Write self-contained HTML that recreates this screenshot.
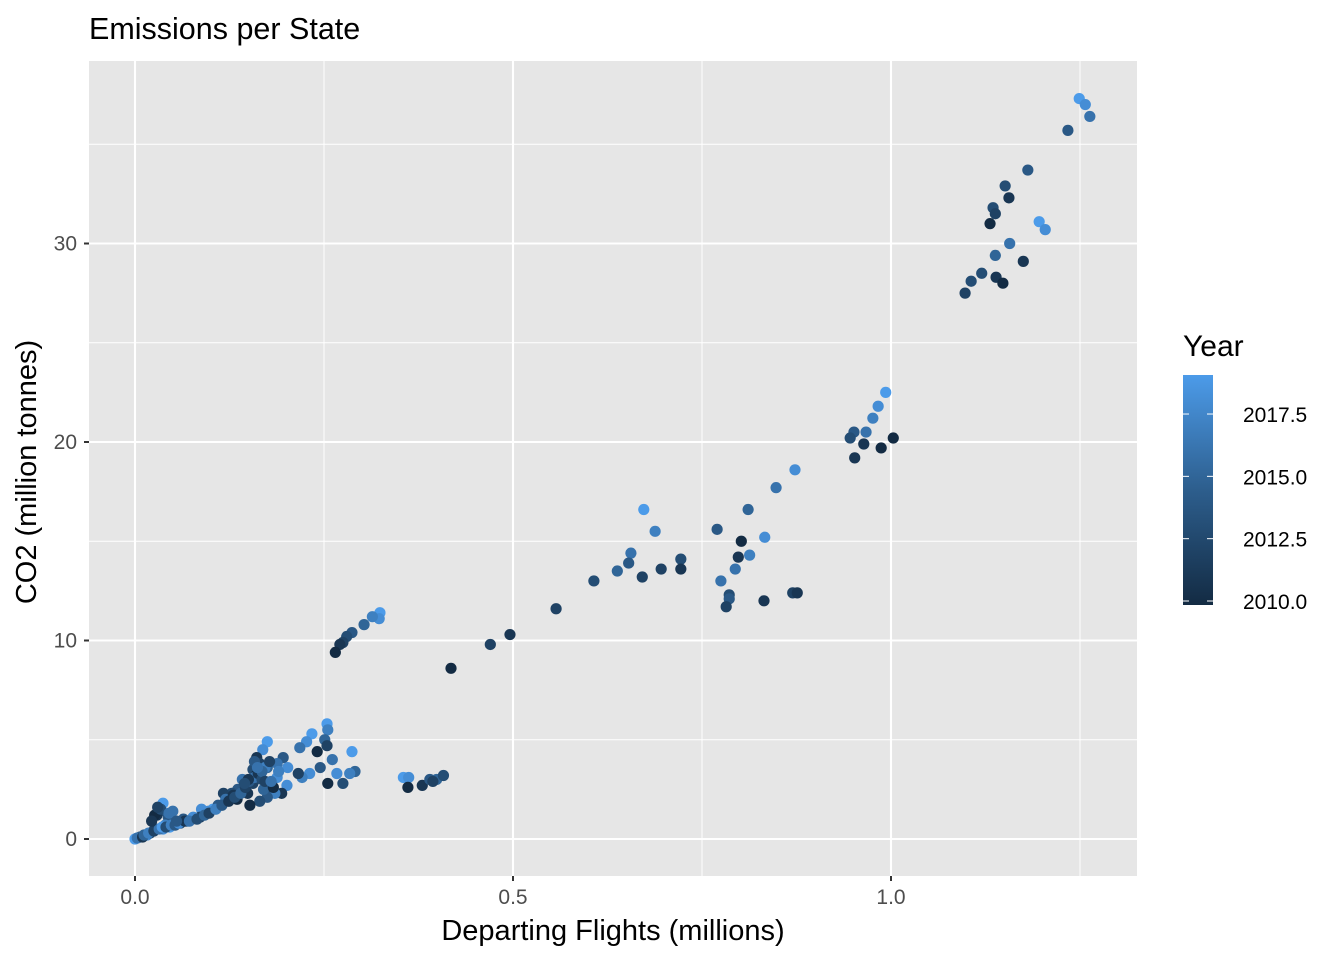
<!DOCTYPE html>
<html><head><meta charset="utf-8"><style>
html,body{margin:0;padding:0;background:#fff;}
svg text{font-family:"Liberation Sans",Arial,sans-serif;}
</style></head><body>
<svg id="chart" width="1344" height="960" xmlns="http://www.w3.org/2000/svg">
<rect x="0" y="0" width="1344" height="960" fill="#fff"/>
<text x="89" y="39" font-size="30.5" fill="#000">Emissions per State</text>
<rect x="89" y="61" width="1048" height="815" fill="#E6E6E6"/>
<g id="grid"></g>
<g id="points"></g>
<g id="axes"></g>
<text x="613" y="940" font-size="29" text-anchor="middle" fill="#000">Departing Flights (millions)</text>
<text transform="translate(36,472) rotate(-90)" font-size="29" text-anchor="middle" fill="#000">CO2 (million tonnes)</text>
<g id="legend">
<text x="1183" y="356" font-size="30" fill="#000">Year</text>
<defs><linearGradient id="yg" x1="0" y1="1" x2="0" y2="0">
<stop offset="0" stop-color="#132B43"/><stop offset="0.5" stop-color="#2D5E8D"/><stop offset="1" stop-color="#4C9BE9"/></linearGradient></defs>
<rect x="1183" y="375" width="30" height="230" fill="url(#yg)"/>
<g id="legticks"></g>
</g>
</svg>
<script>
const xs=[1.249,1.257,1.263,1.234,1.181,1.151,1.156,1.135,1.138,1.131,1.196,1.204,1.157,1.138,1.175,1.120,1.106,1.098,1.139,1.148,
0.993,0.983,0.976,0.967,0.951,0.946,1.003,0.964,0.987,0.952,
0.873,0.848,0.811,0.673,0.688,0.770,0.833,0.802,0.656,0.722,0.653,0.798,0.813,0.638,0.696,0.722,0.794,0.607,0.775,0.671,0.786,0.786,0.782,0.832,0.870,0.876,0.557,0.496,0.470,0.418,
0.324,0.323,0.314,0.303,0.287,0.280,0.275,0.271,0.265,
0.355,0.362,0.361,0.380,0.390,0.399,0.408,0.394,
0.175,0.169,0.254,0.255,0.251,0.254,0.241,0.234,0.227,0.218,0.287,0.261,0.245,0.291,0.284,0.267,0.275,0.255,0.231,0.221,0.216,0.202,0.196,0.188,0.188,0.201,0.194,0.185,0.175,0.175,0.165,0.152,0.149,0.156,0.156,0.161,0.175,0.165,0.142,0.136,0.128,0.117,0.135,0.103,0.097,0.088,0.086,0.075,0.064,0.050,0.037,0.033,0.029,0.044,0.046,0.037,0.024,0.016,0.007,0.0,0.06,0.077,0.069,
0.003,0.01,0.02,0.028,0.04,0.11,0.12,0.13,0.17,0.16,
0.012,0.018,0.025,0.032,0.036,0.041,0.048,0.053,0.058,0.066,0.072,0.082,0.092,0.098,0.107,0.115,0.124,0.132,0.140,0.146,0.151,0.158,0.163,0.168,0.172,0.178,0.183,0.158,0.168,0.172,0.162,0.150,0.145,0.180,0.190,0.026,0.034,0.045,0.055,0.030,0.022];
const ys=[37.3,37.0,36.4,35.7,33.7,32.9,32.3,31.8,31.5,31.0,31.1,30.7,30.0,29.4,29.1,28.5,28.1,27.5,28.3,28.0,
22.5,21.8,21.2,20.5,20.5,20.2,20.2,19.9,19.7,19.2,
18.6,17.7,16.6,16.6,15.5,15.6,15.2,15.0,14.4,14.1,13.9,14.2,14.3,13.5,13.6,13.6,13.6,13.0,13.0,13.2,12.3,12.1,11.7,12.0,12.4,12.4,11.6,10.3,9.8,8.6,
11.4,11.1,11.2,10.8,10.4,10.2,9.9,9.8,9.4,
3.1,3.1,2.6,2.7,3.0,3.0,3.2,2.9,
4.9,4.5,5.8,5.5,5.0,4.7,4.4,5.3,4.9,4.6,4.4,4.0,3.6,3.4,3.3,3.3,2.8,2.8,3.3,3.1,3.3,3.6,4.1,3.8,3.1,2.7,2.3,2.3,2.6,2.1,1.9,1.7,2.3,2.8,3.5,4.1,3.6,3.8,3.0,2.5,2.3,2.3,2.0,1.5,1.4,1.5,1.1,1.0,1.0,1.4,1.8,1.4,1.2,1.1,0.6,0.5,0.4,0.2,0.1,0.0,0.8,1.1,0.9,
0.05,0.1,0.3,0.5,0.7,1.7,2.0,2.2,2.5,3.2,
0.2,0.3,0.4,0.5,0.6,0.6,0.7,0.7,0.8,0.9,0.9,1.0,1.2,1.3,1.5,1.7,1.9,2.1,2.3,2.6,2.9,3.1,3.3,3.0,3.6,3.9,2.6,3.9,3.4,2.9,3.6,3.0,2.8,2.9,3.4,1.2,1.5,1.3,0.9,1.6,0.9];
const years=[2019,2018,2016,2014,2014,2013,2011,2013,2012,2010,2019,2018,2016,2015,2011,2013,2013,2012,2011,2010,
2019,2018,2017,2016,2014,2013,2010,2011,2010,2011,
2018,2016,2015,2019,2017,2014,2018,2010,2016,2013,2014,2011,2017,2015,2012,2011,2016,2013,2016,2012,2013,2014,2012,2011,2012,2011,2012,2011,2012,2010,
2019,2018,2017,2015,2014,2013,2012,2011,2010,
2019,2018,2010,2011,2014,2015,2013,2012,
2019,2018,2019,2017,2015,2012,2010,2019,2018,2016,2019,2016,2014,2015,2017,2018,2013,2010,2018,2017,2012,2018,2014,2016,2018,2018,2011,2017,2013,2014,2013,2010,2011,2012,2013,2011,2015,2012,2016,2014,2013,2012,2010,2019,2018,2018,2012,2013,2014,2016,2019,2015,2011,2014,2019,2018,2014,2018,2013,2019,2013,2018,2016,
2016,2011,2012,2015,2017,2014,2016,2011,2015,2010,
2015,2017,2012,2016,2019,2013,2017,2014,2018,2011,2016,2013,2015,2012,2017,2014,2011,2013,2015,2012,2014,2016,2011,2013,2017,2012,2010,2014,2015,2012,2016,2011,2013,2016,2017,2010,2013,2016,2014,2012,2011];
const xTicks=[0,0.5,1.0];
const xTickLabels=["0.0","0.5","1.0"];
const yTicks=[0,10,20,30];
const yTickLabels=["0","10","20","30"];
const legendBreaks=[2010,2012.5,2015,2017.5];
const legendLabels=["2010.0","2012.5","2015.0","2017.5"];

const NS="http://www.w3.org/2000/svg";
const X=v=>135+v*756;
const Y=v=>839-v*19.85;
const yMin=2010,yMax=2019;
const L=v=>601-(v-2010)*24.93;
function col(yr){const t=Math.max(0,Math.min(1,(yr-yMin)/(yMax-yMin)));
 const a=[0x13,0x2B,0x43],m=[0x2D,0x5E,0x8D],b=[0x4C,0x9B,0xE9];
 let p,q,u; if(t<0.5){p=a;q=m;u=t*2;}else{p=m;q=b;u=(t-0.5)*2;}
 return "rgb("+p.map((c,i)=>Math.round(c+(q[i]-c)*u)).join(",")+")";}
function mk(tag,attrs,parent){const e=document.createElementNS(NS,tag);for(const k in attrs)e.setAttribute(k,attrs[k]);parent.appendChild(e);return e;}
const grid=document.getElementById('grid');
[0.25,0.75,1.25].forEach(v=>{const px=X(v);if(px<1137){const l=mk('line',{x1:px,x2:px,y1:61,y2:876,stroke:'#fff','stroke-width':1},grid);

}});
[5,15,25,35].forEach(v=>{const l=mk('line',{x1:89,x2:1137,y1:Y(v),y2:Y(v),stroke:'#fff','stroke-width':1},grid);

});
const axes=document.getElementById('axes');
xTicks.forEach((v,i)=>{const l=mk('line',{x1:X(v),x2:X(v),y1:61,y2:876,stroke:'#fff','stroke-width':2.1},grid);


const tk=mk('line',{x1:X(v),x2:X(v),y1:876,y2:881,stroke:'#333','stroke-width':2},axes);


const t=mk('text',{x:X(v),y:904,'font-size':21,'text-anchor':'middle',fill:'#4D4D4D'},axes);t.textContent=xTickLabels[i];

});
yTicks.forEach((v,i)=>{const l=mk('line',{x1:89,x2:1137,y1:Y(v),y2:Y(v),stroke:'#fff','stroke-width':2.1},grid);


const tk=mk('line',{x1:84,x2:89,y1:Y(v),y2:Y(v),stroke:'#333','stroke-width':2},axes);


const t=mk('text',{x:77,y:Y(v)+7,'font-size':21,'text-anchor':'end',fill:'#4D4D4D'},axes);t.textContent=yTickLabels[i];

});
const pts=document.getElementById('points');
xs.forEach((x,i)=>{const c=mk('circle',{cx:X(x),cy:Y(ys[i]),r:5.6,fill:col(years[i])},pts);

});
const lt=document.getElementById('legticks');
legendBreaks.forEach((v,i)=>{
 const a=mk('line',{x1:1183,x2:1189,y1:L(v),y2:L(v),stroke:'#fff','stroke-width':1},lt);
 
 
 const b=mk('line',{x1:1207,x2:1213,y1:L(v),y2:L(v),stroke:'#fff','stroke-width':1},lt);
 
 
 const t=mk('text',{x:1243,y:L(v)+8,'font-size':21,fill:'#000'},lt);t.textContent=legendLabels[i];
 
 });
</script>
</body></html>
